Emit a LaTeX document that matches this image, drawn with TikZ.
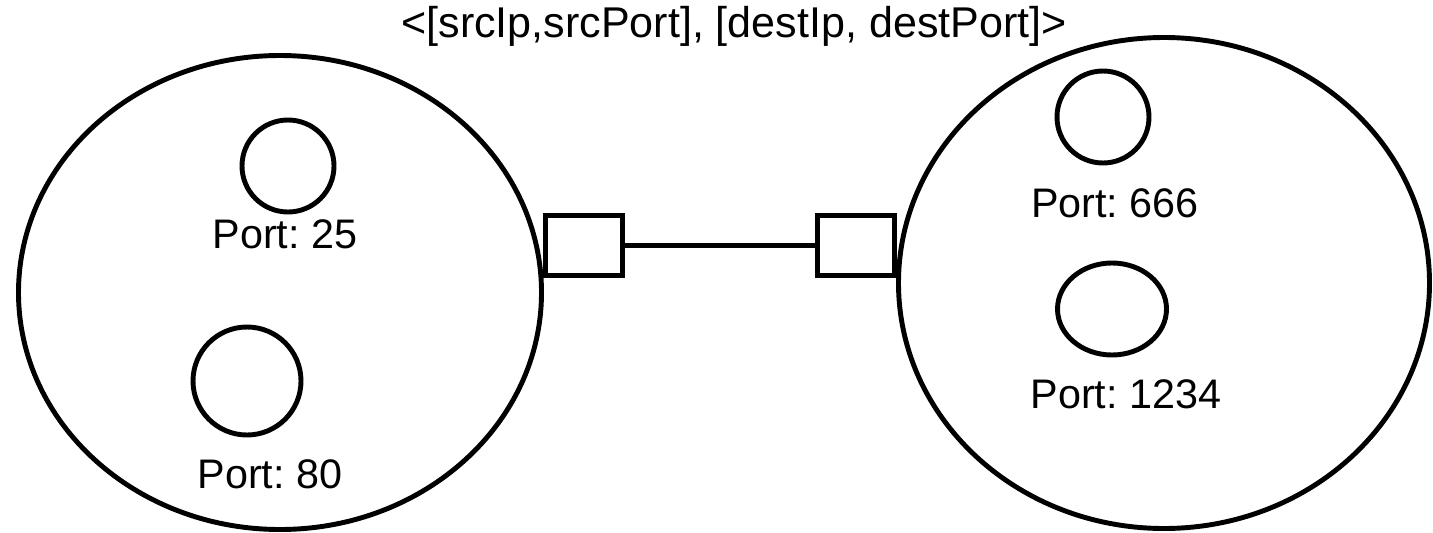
\documentclass[tikz,border=0pt]{standalone}
\usepackage{fontspec}
\setmainfont{Liberation Sans}
\usepackage{tikz}
\usetikzlibrary{shapes}
\frenchspacing

\begin{document}
\begin{tikzpicture}[line width=2.8pt]
				\useasboundingbox (0,0) rectangle (28.66,10.64);
				\begin{scope}[every node/.style={ellipse,draw,inner sep=0pt}]
					\node (H1) at (5.60,4.79) [minimum width=10.46cm,minimum height=9.48cm] {};
					\node (H2) at (23.28,4.98) [minimum width=10.62cm,minimum height=9.82cm] {};
					\node (P25) at (5.76,7.32) [minimum width=1.84cm,minimum height=1.84cm] {};
					\node (P80) at (4.94,3.02) [minimum width=2.16cm,minimum height=2.16cm] {};
					\node (P666) at (22.06,8.30) [minimum width=1.84cm,minimum height=1.84cm] {};
					\node (P1234) at (22.24,4.46) [minimum width=2.18cm,minimum height=1.84cm] {};
				\end{scope}
				
				\begin{scope}[every node/.style={rectangle,draw,inner sep=0pt,minimum width=1.54cm,minimum height=1.20cm}]
					\node (S1) at (11.68,5.73) {};
					\node (S2) at (17.12,5.73) {};
				\end{scope}
				
				\draw (S1) -- (S2);
				
				\begin{scope}[every node/.style={anchor=base,font=\fontsize{23.5}{28}\selectfont,inner sep=0pt}]
					\node (L25) at (5.70,5.68) {Port: 25};
					\node (L80) at (5.40,0.88) {Port: 80};
					\node (L666) at (22.30,6.30) {Port: 666};
					\node (L1234) at (22.52,2.48) {Port: 1234};
					\node (T) at (14.68,9.88) [font=\fontsize{24.5}{29}\selectfont] {<[srcIp,srcPort], [destIp, destPort]>};
				\end{scope}
			\end{tikzpicture}
\end{document}
